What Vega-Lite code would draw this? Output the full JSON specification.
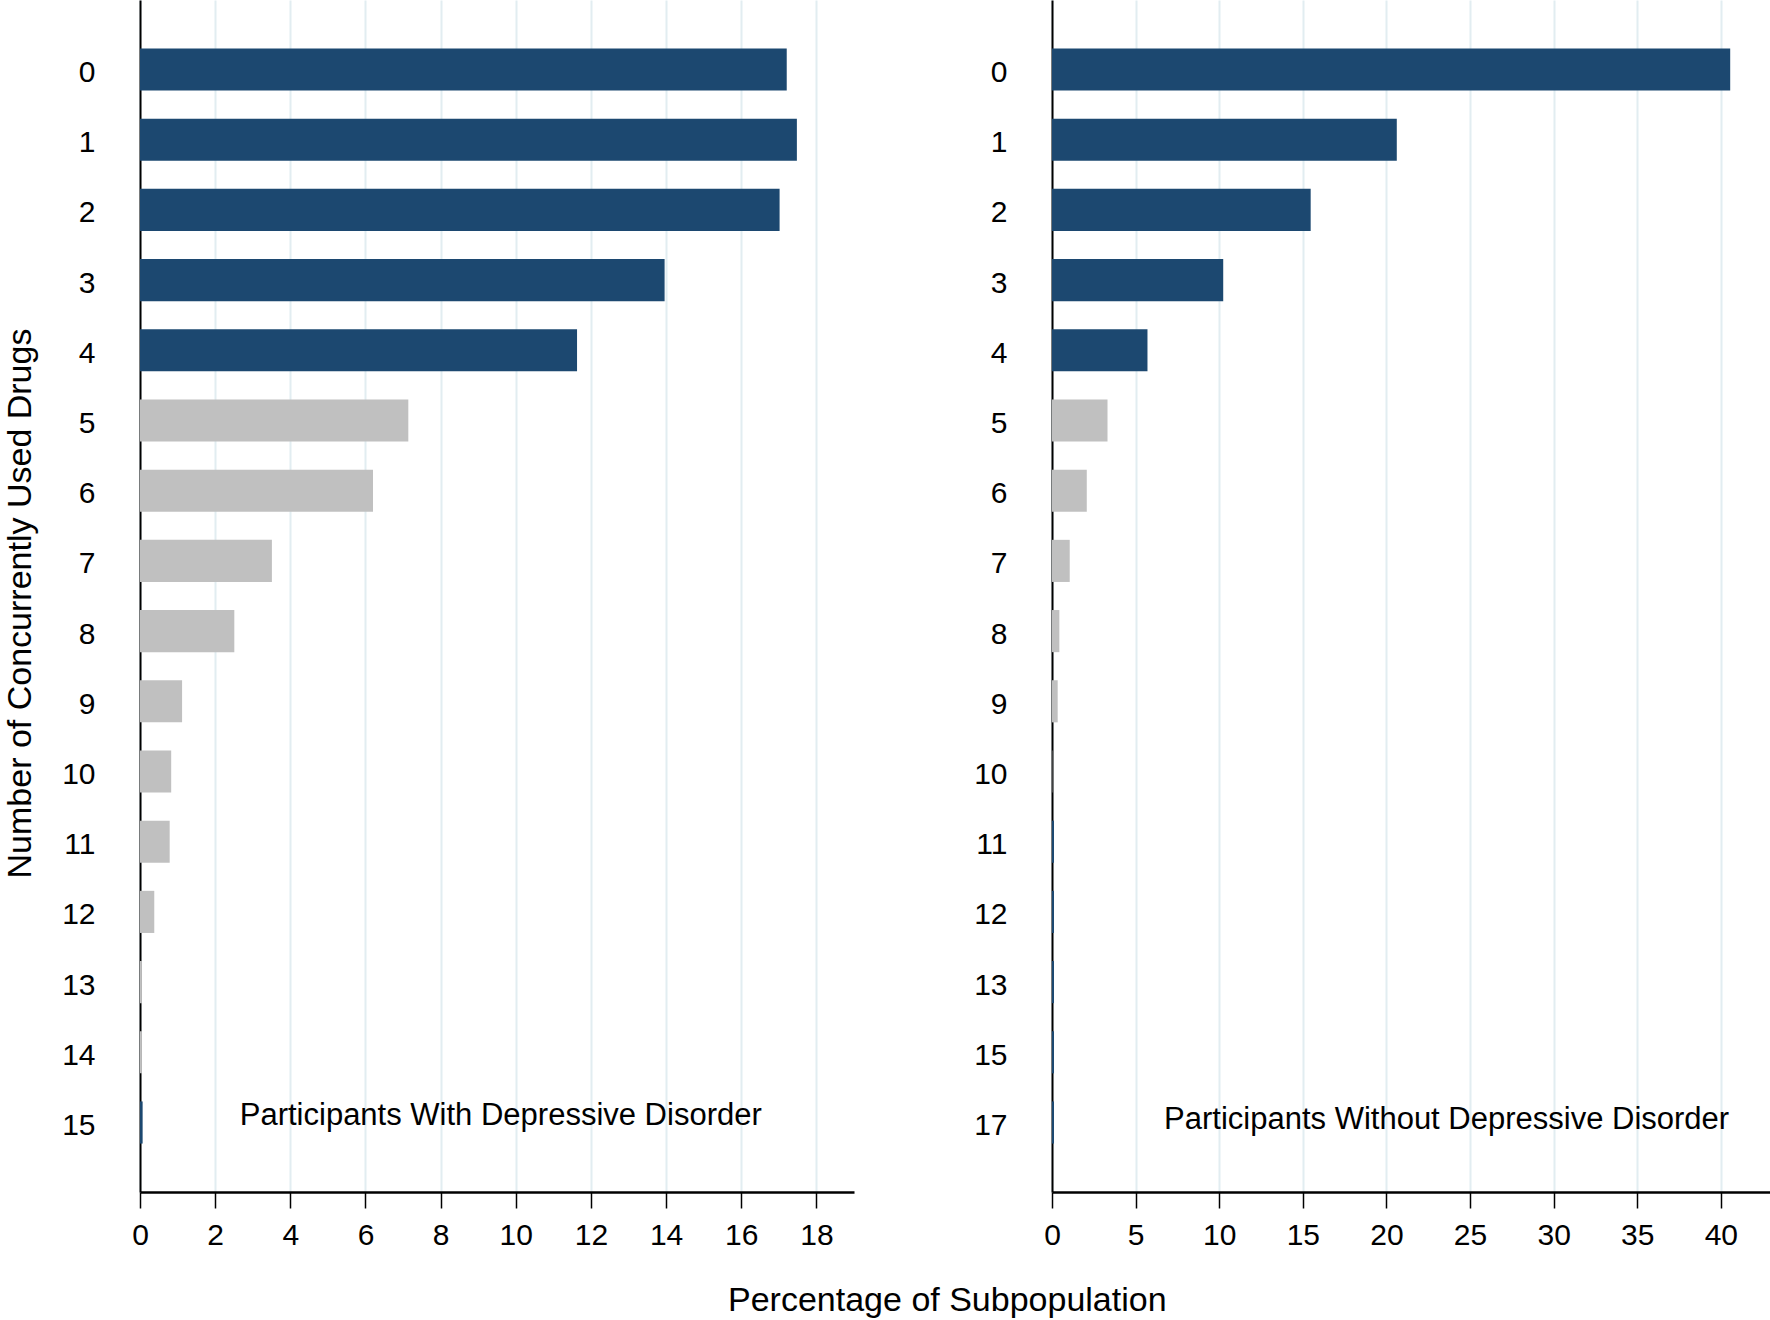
{
  "$schema": "https://vega.github.io/schema/vega-lite/v6.json",
  "background": "white",
  "padding": {"left": 3, "top": 0, "right": 0, "bottom": 0},
  "config": {
    "view": {"stroke": null},
    "font": "Liberation Sans",
    "concat": {"spacing": 119},
    "axis": {
      "labelFont": "Liberation Sans",
      "titleFont": "Liberation Sans",
      "labelColor": "#000000",
      "titleColor": "#000000",
      "labelFontSize": 30,
      "titleFontSize": 34,
      "titleFontWeight": "normal",
      "domainColor": "#000000",
      "tickColor": "#000000"
    },
    "title": {"font": "Liberation Sans", "fontWeight": "normal", "color": "#000000"}
  },
  "title": {
    "text": "Percentage of Subpopulation",
    "orient": "bottom",
    "anchor": "middle",
    "fontSize": 34,
    "offset": 34,
    "dx": 60
  },
  "datasets": {
    "with": [
      {"drugs": "0", "pct": 17.21, "group": "blue"},
      {"drugs": "1", "pct": 17.48, "group": "blue"},
      {"drugs": "2", "pct": 17.02, "group": "blue"},
      {"drugs": "3", "pct": 13.96, "group": "blue"},
      {"drugs": "4", "pct": 11.63, "group": "blue"},
      {"drugs": "5", "pct": 7.14, "group": "gray"},
      {"drugs": "6", "pct": 6.2, "group": "gray"},
      {"drugs": "7", "pct": 3.51, "group": "gray"},
      {"drugs": "8", "pct": 2.51, "group": "gray"},
      {"drugs": "9", "pct": 1.12, "group": "gray"},
      {"drugs": "10", "pct": 0.83, "group": "gray"},
      {"drugs": "11", "pct": 0.79, "group": "gray"},
      {"drugs": "12", "pct": 0.38, "group": "gray"},
      {"drugs": "13", "pct": 0.05, "group": "gray"},
      {"drugs": "14", "pct": 0.05, "group": "gray"},
      {"drugs": "15", "pct": 0.07, "group": "blue"}
    ],
    "without": [
      {"drugs": "0", "pct": 40.56, "group": "blue"},
      {"drugs": "1", "pct": 20.62, "group": "blue"},
      {"drugs": "2", "pct": 15.47, "group": "blue"},
      {"drugs": "3", "pct": 10.24, "group": "blue"},
      {"drugs": "4", "pct": 5.71, "group": "blue"},
      {"drugs": "5", "pct": 3.32, "group": "gray"},
      {"drugs": "6", "pct": 2.08, "group": "gray"},
      {"drugs": "7", "pct": 1.06, "group": "gray"},
      {"drugs": "8", "pct": 0.44, "group": "gray"},
      {"drugs": "9", "pct": 0.34, "group": "gray"},
      {"drugs": "10", "pct": 0.02, "group": "gray"},
      {"drugs": "11", "pct": 0.12, "group": "blue"},
      {"drugs": "12", "pct": 0.12, "group": "blue"},
      {"drugs": "13", "pct": 0.12, "group": "blue"},
      {"drugs": "15", "pct": 0.12, "group": "blue"},
      {"drugs": "17", "pct": 0.12, "group": "blue"}
    ],
    "labelWith": [{"label": "Participants With Depressive Disorder"}],
    "labelWithout": [{"label": "Participants Without Depressive Disorder"}]
  },
  "hconcat": [
    {
      "width": 714,
      "height": 1192,
      "layer": [
        {
          "data": {"name": "with"},
          "mark": {"type": "bar"},
          "encoding": {
            "y": {
              "field": "drugs", "type": "nominal", "sort": null,
              "scale": {"paddingInner": 0.4, "paddingOuter": 0.69},
              "axis": {
                "title": "Number of Concurrently Used Drugs",
                "ticks": false, "domainWidth": 2, "labelPadding": 45,
                "labelOffset": 3.5, "titleY": 603,
                "titlePadding": 24, "grid": false
              }
            },
            "x": {
              "field": "pct", "type": "quantitative",
              "scale": {"domain": [0, 19], "nice": false, "zero": true},
              "axis": {
                "title": null,
                "values": [0, 2, 4, 6, 8, 10, 12, 14, 16, 18],
                "grid": true, "gridColor": "#e2edf1", "gridWidth": 2,
                "tickSize": 16, "tickWidth": 1.5, "domainWidth": 2.5,
                "labelPadding": 12, "labelFlush": false
              }
            },
            "color": {
              "field": "group", "type": "nominal",
              "scale": {"domain": ["blue", "gray"], "range": ["#1c4870", "#c0c0c0"]},
              "legend": null
            }
          }
        },
        {
          "data": {"name": "labelWith"},
          "mark": {"type": "text", "fontSize": 31, "font": "Liberation Sans", "color": "#000000", "align": "center", "baseline": "middle", "dy": -7},
          "encoding": {
            "x": {"datum": 9.6, "type": "quantitative"},
            "y": {"datum": "15", "type": "nominal"},
            "text": {"field": "label", "type": "nominal"}
          }
        }
      ]
    },
    {
      "width": 719,
      "height": 1192,
      "layer": [
        {
          "data": {"name": "without"},
          "mark": {"type": "bar"},
          "encoding": {
            "y": {
              "field": "drugs", "type": "nominal", "sort": null,
              "scale": {"paddingInner": 0.4, "paddingOuter": 0.69},
              "axis": {
                "title": null,
                "ticks": false, "domainWidth": 2, "labelPadding": 45,
                "labelOffset": 3.5,
                "grid": false
              }
            },
            "x": {
              "field": "pct", "type": "quantitative",
              "scale": {"domain": [0, 43], "nice": false, "zero": true},
              "axis": {
                "title": null,
                "values": [0, 5, 10, 15, 20, 25, 30, 35, 40],
                "grid": true, "gridColor": "#e2edf1", "gridWidth": 2,
                "tickSize": 16, "tickWidth": 1.5, "domainWidth": 2.5,
                "labelPadding": 12, "labelFlush": false
              }
            },
            "color": {
              "field": "group", "type": "nominal",
              "scale": {"domain": ["blue", "gray"], "range": ["#1c4870", "#c0c0c0"]},
              "legend": null
            }
          }
        },
        {
          "data": {"name": "labelWithout"},
          "mark": {"type": "text", "fontSize": 31, "font": "Liberation Sans", "color": "#000000", "align": "center", "baseline": "middle", "dy": -3},
          "encoding": {
            "x": {"datum": 23.6, "type": "quantitative"},
            "y": {"datum": "17", "type": "nominal"},
            "text": {"field": "label", "type": "nominal"}
          }
        }
      ]
    }
  ]
}
